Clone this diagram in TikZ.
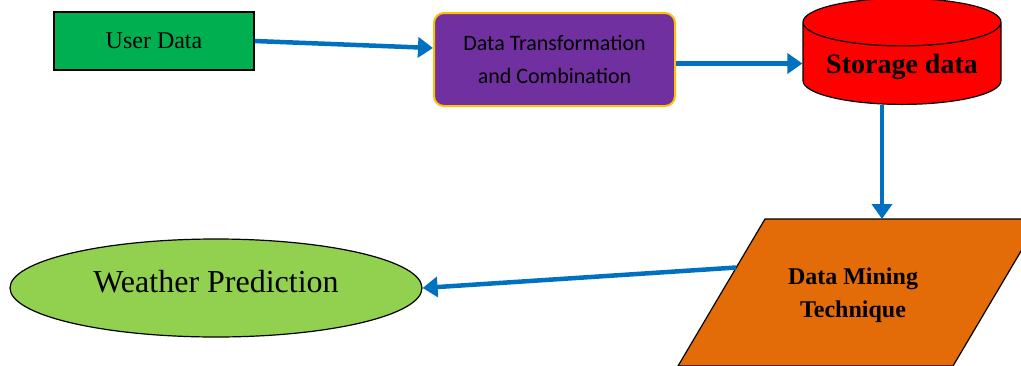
\documentclass[tikz,border=0pt]{standalone}
\usepackage{fontspec}
\setmainfont{Liberation Serif}
\newfontfamily\calibrifont{Carlito}
\usepackage{tikz}
\usetikzlibrary{shapes.geometric, arrows.meta, calc}
\definecolor{user-green}{HTML}{00B050}
\definecolor{combine-purple}{HTML}{7030A0}
\definecolor{combine-gold}{HTML}{FFC000}
\definecolor{store-red}{HTML}{FF0000}
\definecolor{mining-orange}{HTML}{E36C09}
\definecolor{predict-green}{HTML}{92D050}
\definecolor{flow-blue}{HTML}{0070C0}

\begin{document}
\begin{tikzpicture} [x=1pt, y=-1pt,
  flow/.style={draw=flow-blue, line width=4.5pt, -{Triangle[length=15pt, width=20pt]}}]%Weather flow
\clip (0,0) rectangle (1021,365);
% upper row
\node [draw, line width=1.2pt, fill=user-green, minimum width=200pt, minimum height=58pt,
  font=\fontsize{24}{28}\selectfont] (ud) at (154,41) {User Data};
\node [draw=combine-gold, line width=2pt, rounded corners=10pt, fill=combine-purple,
  minimum width=241pt, minimum height=93pt, align=center,
  font=\calibrifont\fontsize{22}{33}\selectfont] (dt) at (554.5,59.5) {Data Transformation\\and Combination};
\node [cylinder, shape border rotate=90, aspect=0.3, draw, line width=1.2pt, fill=store-red,
  minimum width=198pt, minimum height=106pt, anchor=south,
  font=\bfseries\fontsize{28}{32}\selectfont] (st) at (902,105) {Storage data};
% lower row: parallelogram runs off the right edge
\coordinate (dm-tl) at (765,219);
\coordinate (dm-bl) at (678,366);
\filldraw [line width=1.2pt, fill=mining-orange] (dm-tl) -- (1040,219) -- (953,366) -- (dm-bl) -- cycle;
\node [align=center, font=\bfseries\fontsize{24}{33}\selectfont] (dm) at (853,295) {Data Mining\\Technique};
\node [ellipse, draw, line width=1.2pt, fill=predict-green, minimum width=412pt, minimum height=98pt,
  text depth=14pt, font=\fontsize{32}{36}\selectfont] (wp) at (216,288) {Weather Prediction};
%  \draw [gray] (st.south) circle [radius=2pt];
\draw [flow] (ud.east) -- ([yshift=11.5pt]dt.west);
\draw [flow] ([yshift=-4pt]dt.east) -- ([yshift=-4pt]dt.east -| st.west);
\draw [flow] ([xshift=-20pt]st.south) -- ([xshift=-20pt]st.south |- dm-tl);
\draw [flow] ($(dm-tl)!0.33!(dm-bl)$) -- (wp.east);
\end{tikzpicture}
\end{document}
